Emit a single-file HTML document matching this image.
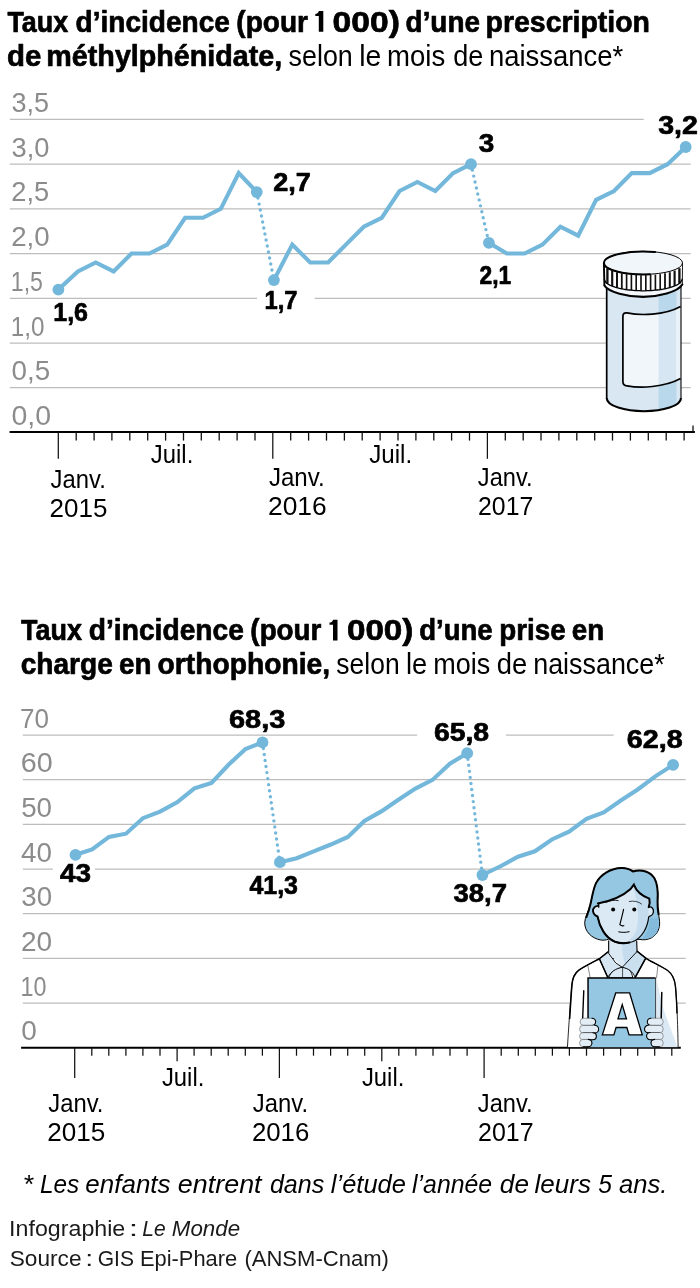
<!DOCTYPE html>
<html lang="fr"><head><meta charset="utf-8"><title>Taux d’incidence</title>
<style>
html,body{margin:0;padding:0;background:#fff;}
body{width:700px;height:1288px;overflow:hidden;font-family:"Liberation Sans",sans-serif;}
svg{display:block;font-family:"Liberation Sans",sans-serif;will-change:transform;}
</style></head><body>
<svg width="700" height="1288" viewBox="0 0 700 1288">
<rect width="700" height="1288" fill="#fff"/>
<text x="7.45" y="31.7" font-size="30" font-weight="bold" font-style="normal" fill="#000" text-anchor="start" stroke="#000" stroke-width="0.7" stroke-linejoin="round" textLength="60.69" lengthAdjust="spacingAndGlyphs">Taux</text>
<text x="75.6" y="31.7" font-size="30" font-weight="bold" font-style="normal" fill="#000" text-anchor="start" stroke="#000" stroke-width="0.7" stroke-linejoin="round" textLength="154.3" lengthAdjust="spacingAndGlyphs">d’incidence</text>
<text x="236.36" y="31.7" font-size="30" font-weight="bold" font-style="normal" fill="#000" text-anchor="start" stroke="#000" stroke-width="0.7" stroke-linejoin="round" textLength="71.6" lengthAdjust="spacingAndGlyphs">(pour</text>
<text x="332.62" y="31.7" font-size="30" font-weight="bold" font-style="normal" fill="#000" text-anchor="start" stroke="#000" stroke-width="0.7" stroke-linejoin="round" textLength="67.29" lengthAdjust="spacingAndGlyphs">000)</text>
<text x="405.61" y="31.7" font-size="30" font-weight="bold" font-style="normal" fill="#000" text-anchor="start" stroke="#000" stroke-width="0.7" stroke-linejoin="round" textLength="74.29" lengthAdjust="spacingAndGlyphs">d’une</text>
<text x="485.59" y="31.7" font-size="30" font-weight="bold" font-style="normal" fill="#000" text-anchor="start" stroke="#000" stroke-width="0.7" stroke-linejoin="round" textLength="164.42" lengthAdjust="spacingAndGlyphs">prescription</text>
<text x="7.04" y="65.5" font-size="30" font-weight="bold" font-style="normal" fill="#000" text-anchor="start" stroke="#000" stroke-width="0.7" stroke-linejoin="round" textLength="34.3" lengthAdjust="spacingAndGlyphs">de</text>
<text x="46.37" y="65.5" font-size="30" font-weight="bold" font-style="normal" fill="#000" text-anchor="start" stroke="#000" stroke-width="0.7" stroke-linejoin="round" textLength="235.89" lengthAdjust="spacingAndGlyphs">méthylphénidate,</text>
<text x="288.56" y="65.5" font-size="29" font-weight="normal" font-style="normal" fill="#000" text-anchor="start" textLength="64.28" lengthAdjust="spacingAndGlyphs">selon</text>
<text x="359.2" y="65.5" font-size="29" font-weight="normal" font-style="normal" fill="#000" text-anchor="start" textLength="22.05" lengthAdjust="spacingAndGlyphs">le</text>
<text x="387.08" y="65.5" font-size="29" font-weight="normal" font-style="normal" fill="#000" text-anchor="start" textLength="58.21" lengthAdjust="spacingAndGlyphs">mois</text>
<text x="453.18" y="65.5" font-size="29" font-weight="normal" font-style="normal" fill="#000" text-anchor="start" textLength="30.12" lengthAdjust="spacingAndGlyphs">de</text>
<text x="488.89" y="65.5" font-size="29" font-weight="normal" font-style="normal" fill="#000" text-anchor="start" textLength="134.43" lengthAdjust="spacingAndGlyphs">naissance*</text>
<text x="21.05" y="640.4" font-size="30" font-weight="bold" font-style="normal" fill="#000" text-anchor="start" stroke="#000" stroke-width="0.7" stroke-linejoin="round" textLength="60.89" lengthAdjust="spacingAndGlyphs">Taux</text>
<text x="88.79" y="640.4" font-size="30" font-weight="bold" font-style="normal" fill="#000" text-anchor="start" stroke="#000" stroke-width="0.7" stroke-linejoin="round" textLength="155.11" lengthAdjust="spacingAndGlyphs">d’incidence</text>
<text x="250.37" y="640.4" font-size="30" font-weight="bold" font-style="normal" fill="#000" text-anchor="start" stroke="#000" stroke-width="0.7" stroke-linejoin="round" textLength="71.09" lengthAdjust="spacingAndGlyphs">(pour</text>
<text x="346.94" y="640.4" font-size="30" font-weight="bold" font-style="normal" fill="#000" text-anchor="start" stroke="#000" stroke-width="0.7" stroke-linejoin="round" textLength="66.45" lengthAdjust="spacingAndGlyphs">000)</text>
<text x="419.22" y="640.4" font-size="30" font-weight="bold" font-style="normal" fill="#000" text-anchor="start" stroke="#000" stroke-width="0.7" stroke-linejoin="round" textLength="73.47" lengthAdjust="spacingAndGlyphs">d’une</text>
<text x="499.23" y="640.4" font-size="30" font-weight="bold" font-style="normal" fill="#000" text-anchor="start" stroke="#000" stroke-width="0.7" stroke-linejoin="round" textLength="66.37" lengthAdjust="spacingAndGlyphs">prise</text>
<text x="571.87" y="640.4" font-size="30" font-weight="bold" font-style="normal" fill="#000" text-anchor="start" stroke="#000" stroke-width="0.7" stroke-linejoin="round" textLength="32.4" lengthAdjust="spacingAndGlyphs">en</text>
<text x="20.65" y="673.5" font-size="30" font-weight="bold" font-style="normal" fill="#000" text-anchor="start" stroke="#000" stroke-width="0.7" stroke-linejoin="round" textLength="92.16" lengthAdjust="spacingAndGlyphs">charge</text>
<text x="118.97" y="673.5" font-size="30" font-weight="bold" font-style="normal" fill="#000" text-anchor="start" stroke="#000" stroke-width="0.7" stroke-linejoin="round" textLength="32.4" lengthAdjust="spacingAndGlyphs">en</text>
<text x="157.55" y="673.5" font-size="30" font-weight="bold" font-style="normal" fill="#000" text-anchor="start" stroke="#000" stroke-width="0.7" stroke-linejoin="round" textLength="172.49" lengthAdjust="spacingAndGlyphs">orthophonie,</text>
<text x="336.37" y="673.5" font-size="29" font-weight="normal" font-style="normal" fill="#000" text-anchor="start" textLength="63.24" lengthAdjust="spacingAndGlyphs">selon</text>
<text x="406.07" y="673.5" font-size="29" font-weight="normal" font-style="normal" fill="#000" text-anchor="start" textLength="21.24" lengthAdjust="spacingAndGlyphs">le</text>
<text x="433.22" y="673.5" font-size="29" font-weight="normal" font-style="normal" fill="#000" text-anchor="start" textLength="57.05" lengthAdjust="spacingAndGlyphs">mois</text>
<text x="496.76" y="673.5" font-size="29" font-weight="normal" font-style="normal" fill="#000" text-anchor="start" textLength="30.45" lengthAdjust="spacingAndGlyphs">de</text>
<text x="533.23" y="673.5" font-size="29" font-weight="normal" font-style="normal" fill="#000" text-anchor="start" textLength="131.48" lengthAdjust="spacingAndGlyphs">naissance*</text>
<path d="M318.8 11.10H323.3V31.7H318.8V16.00H315.30V13.90C317.20 13.90 318.50 13.00 318.8 11.10Z" fill="#000"/>
<path d="M333.0 619.80H337.5V640.4H333.0V624.70H329.50V622.60C331.40 622.60 332.70 621.70 333.0 619.80Z" fill="#000"/>
<path d="M9.8 119.4H643.8" stroke="#bfbdbb" stroke-width="1.25"/>
<path d="M9.8 164.12H690.6" stroke="#bfbdbb" stroke-width="1.25"/>
<path d="M9.8 208.84H690.6" stroke="#bfbdbb" stroke-width="1.25"/>
<path d="M9.8 253.56H690.6" stroke="#bfbdbb" stroke-width="1.25"/>
<path d="M9.8 298.28H257M314.6 298.28H690.6" stroke="#bfbdbb" stroke-width="1.25"/>
<path d="M9.8 343.0H690.6" stroke="#bfbdbb" stroke-width="1.25"/>
<path d="M9.8 387.72H690.6" stroke="#bfbdbb" stroke-width="1.25"/>
<text x="11.57" y="111.9" font-size="27" font-weight="normal" font-style="normal" fill="#8c8c8c" text-anchor="start" textLength="37.55" lengthAdjust="spacingAndGlyphs">3,5</text>
<text x="11.56" y="156.6" font-size="27" font-weight="normal" font-style="normal" fill="#8c8c8c" text-anchor="start" textLength="37.89" lengthAdjust="spacingAndGlyphs">3,0</text>
<text x="11.24" y="201.3" font-size="27" font-weight="normal" font-style="normal" fill="#8c8c8c" text-anchor="start" textLength="37.9" lengthAdjust="spacingAndGlyphs">2,5</text>
<text x="11.22" y="246.1" font-size="27" font-weight="normal" font-style="normal" fill="#8c8c8c" text-anchor="start" textLength="38.45" lengthAdjust="spacingAndGlyphs">2,0</text>
<text x="10.84" y="290.8" font-size="27" font-weight="normal" font-style="normal" fill="#8c8c8c" text-anchor="start" textLength="32.12" lengthAdjust="spacingAndGlyphs">1,5</text>
<text x="10.76" y="335.5" font-size="27" font-weight="normal" font-style="normal" fill="#8c8c8c" text-anchor="start" textLength="33.68" lengthAdjust="spacingAndGlyphs">1,0</text>
<text x="11.52" y="380.2" font-size="27" font-weight="normal" font-style="normal" fill="#8c8c8c" text-anchor="start" textLength="38.64" lengthAdjust="spacingAndGlyphs">0,5</text>
<text x="11.49" y="424.5" font-size="27" font-weight="normal" font-style="normal" fill="#8c8c8c" text-anchor="start" textLength="39.61" lengthAdjust="spacingAndGlyphs">0,0</text>
<path d="M9.6 432H694.9" stroke="#000" stroke-width="2"/>
<path d="M693.0 425.6V432" stroke="#111" stroke-width="1.3"/>
<path d="M58.3 432V458.8" stroke="#111" stroke-width="1.25"/>
<path d="M76.2 432V440.6" stroke="#111" stroke-width="1.3"/>
<path d="M94.1 432V440.6" stroke="#111" stroke-width="1.3"/>
<path d="M111.9 432V440.6" stroke="#111" stroke-width="1.3"/>
<path d="M129.8 432V440.6" stroke="#111" stroke-width="1.3"/>
<path d="M147.7 432V440.6" stroke="#111" stroke-width="1.3"/>
<path d="M165.6 432V440.6" stroke="#111" stroke-width="1.3"/>
<path d="M183.5 432V440.6" stroke="#111" stroke-width="1.3"/>
<path d="M201.3 432V440.6" stroke="#111" stroke-width="1.3"/>
<path d="M219.2 432V440.6" stroke="#111" stroke-width="1.3"/>
<path d="M237.1 432V440.6" stroke="#111" stroke-width="1.3"/>
<path d="M255.0 432V440.6" stroke="#111" stroke-width="1.3"/>
<path d="M272.8 432V458.8" stroke="#111" stroke-width="1.25"/>
<path d="M290.7 432V440.6" stroke="#111" stroke-width="1.3"/>
<path d="M308.6 432V440.6" stroke="#111" stroke-width="1.3"/>
<path d="M326.5 432V440.6" stroke="#111" stroke-width="1.3"/>
<path d="M344.4 432V440.6" stroke="#111" stroke-width="1.3"/>
<path d="M362.2 432V440.6" stroke="#111" stroke-width="1.3"/>
<path d="M380.1 432V440.6" stroke="#111" stroke-width="1.3"/>
<path d="M398.0 432V440.6" stroke="#111" stroke-width="1.3"/>
<path d="M415.9 432V440.6" stroke="#111" stroke-width="1.3"/>
<path d="M433.8 432V440.6" stroke="#111" stroke-width="1.3"/>
<path d="M451.6 432V440.6" stroke="#111" stroke-width="1.3"/>
<path d="M469.5 432V440.6" stroke="#111" stroke-width="1.3"/>
<path d="M487.4 432V458.8" stroke="#111" stroke-width="1.25"/>
<path d="M505.3 432V440.6" stroke="#111" stroke-width="1.3"/>
<path d="M523.2 432V440.6" stroke="#111" stroke-width="1.3"/>
<path d="M541.0 432V440.6" stroke="#111" stroke-width="1.3"/>
<path d="M558.9 432V440.6" stroke="#111" stroke-width="1.3"/>
<path d="M576.8 432V440.6" stroke="#111" stroke-width="1.3"/>
<path d="M594.7 432V440.6" stroke="#111" stroke-width="1.3"/>
<path d="M612.5 432V440.6" stroke="#111" stroke-width="1.3"/>
<path d="M630.4 432V440.6" stroke="#111" stroke-width="1.3"/>
<path d="M648.3 432V440.6" stroke="#111" stroke-width="1.3"/>
<path d="M666.2 432V440.6" stroke="#111" stroke-width="1.3"/>
<path d="M684.1 432V440.6" stroke="#111" stroke-width="1.3"/>
<text x="150.83" y="463.4" font-size="26" font-weight="normal" font-style="normal" fill="#000" text-anchor="start" textLength="42.44" lengthAdjust="spacingAndGlyphs">Juil.</text>
<text x="369.23" y="463.4" font-size="26" font-weight="normal" font-style="normal" fill="#000" text-anchor="start" textLength="42.97" lengthAdjust="spacingAndGlyphs">Juil.</text>
<text x="50.53" y="487.9" font-size="26" font-weight="normal" font-style="normal" fill="#000" text-anchor="start" textLength="55.24" lengthAdjust="spacingAndGlyphs">Janv.</text>
<text x="49.6" y="517.1" font-size="26" font-weight="normal" font-style="normal" fill="#000" text-anchor="start" textLength="57.78" lengthAdjust="spacingAndGlyphs">2015</text>
<text x="268.93" y="486.3" font-size="26" font-weight="normal" font-style="normal" fill="#000" text-anchor="start" textLength="55.76" lengthAdjust="spacingAndGlyphs">Janv.</text>
<text x="267.98" y="515.3" font-size="26" font-weight="normal" font-style="normal" fill="#000" text-anchor="start" textLength="58.67" lengthAdjust="spacingAndGlyphs">2016</text>
<text x="477.83" y="486.3" font-size="26" font-weight="normal" font-style="normal" fill="#000" text-anchor="start" textLength="54.71" lengthAdjust="spacingAndGlyphs">Janv.</text>
<text x="478.06" y="515.3" font-size="26" font-weight="normal" font-style="normal" fill="#000" text-anchor="start" textLength="55.18" lengthAdjust="spacingAndGlyphs">2017</text>
<path d="M58.4 289.6L77.9 271.4L95.7 262.5L113.6 271.4L131.5 253.5L149.4 253.5L167.2 244.6L185.1 217.8L203.0 217.8L220.8 208.8L238.7 173.1L256.8 192.1" fill="none" stroke="#73b7db" stroke-width="4.1" stroke-linejoin="miter" stroke-linecap="butt"/>
<path d="M273.9 280.1L292.3 244.6L310.2 262.5L328.1 262.5L345.9 244.6L363.8 226.7L381.7 217.8L399.5 191.0L417.4 182.0L435.3 191.0L453.1 173.1L471.0 164.2" fill="none" stroke="#73b7db" stroke-width="4.1" stroke-linejoin="miter" stroke-linecap="butt"/>
<path d="M488.9 242.8L506.8 253.5L524.6 253.5L542.5 244.6L560.4 226.7L578.2 235.7L596.1 199.9L614.0 191.0L631.8 173.1L649.7 173.1L667.6 164.2L685.7 147.0" fill="none" stroke="#73b7db" stroke-width="4.1" stroke-linejoin="miter" stroke-linecap="butt"/>
<path d="M256.8 192.1L273.9 280.1" fill="none" stroke="#73b7db" stroke-width="3.4" stroke-linecap="round" stroke-dasharray="0 6.1"/>
<path d="M471.0 164.2L488.9 242.8" fill="none" stroke="#73b7db" stroke-width="3.4" stroke-linecap="round" stroke-dasharray="0 6.1"/>
<circle cx="58.4" cy="289.6" r="5.9" fill="#73b7db"/>
<circle cx="256.8" cy="192.1" r="5.9" fill="#73b7db"/>
<circle cx="273.9" cy="280.1" r="5.9" fill="#73b7db"/>
<circle cx="471.0" cy="164.2" r="5.9" fill="#73b7db"/>
<circle cx="488.9" cy="242.8" r="5.9" fill="#73b7db"/>
<circle cx="685.7" cy="147.0" r="5.9" fill="#73b7db"/>
<text x="53.29" y="321.1" font-size="26" font-weight="bold" font-style="normal" fill="#000" text-anchor="start" stroke="#000" stroke-width="0.7" stroke-linejoin="round" textLength="34.75" lengthAdjust="spacingAndGlyphs">1,6</text>
<text x="273.22" y="190.9" font-size="26" font-weight="bold" font-style="normal" fill="#000" text-anchor="start" stroke="#000" stroke-width="0.7" stroke-linejoin="round" textLength="37.61" lengthAdjust="spacingAndGlyphs">2,7</text>
<text x="264.57" y="308.8" font-size="26" font-weight="bold" font-style="normal" fill="#000" text-anchor="start" stroke="#000" stroke-width="0.7" stroke-linejoin="round" textLength="33.02" lengthAdjust="spacingAndGlyphs">1,7</text>
<text x="478.82" y="152.3" font-size="26" font-weight="bold" font-style="normal" fill="#000" text-anchor="start" stroke="#000" stroke-width="0.7" stroke-linejoin="round" textLength="15.52" lengthAdjust="spacingAndGlyphs">3</text>
<text x="479.56" y="283.5" font-size="26" font-weight="bold" font-style="normal" fill="#000" text-anchor="start" stroke="#000" stroke-width="0.7" stroke-linejoin="round" textLength="31.72" lengthAdjust="spacingAndGlyphs">2,1</text>
<text x="658.21" y="134.2" font-size="26" font-weight="bold" font-style="normal" fill="#000" text-anchor="start" stroke="#000" stroke-width="0.7" stroke-linejoin="round" textLength="39.67" lengthAdjust="spacingAndGlyphs">3,2</text>
<path d="M22.8 735.0H417.1M506 735.0H613.6" stroke="#bfbdbb" stroke-width="1.25"/>
<path d="M22.8 779.67H685.7" stroke="#bfbdbb" stroke-width="1.25"/>
<path d="M22.8 824.33H685.7" stroke="#bfbdbb" stroke-width="1.25"/>
<path d="M22.8 869.0H52.8M95.1 869.0H685.7" stroke="#bfbdbb" stroke-width="1.25"/>
<path d="M22.8 913.67H685.7" stroke="#bfbdbb" stroke-width="1.25"/>
<path d="M22.8 958.33H685.7" stroke="#bfbdbb" stroke-width="1.25"/>
<path d="M22.8 1003.0H685.7" stroke="#bfbdbb" stroke-width="1.25"/>
<text x="19.97" y="727.6" font-size="27" font-weight="normal" font-style="normal" fill="#8c8c8c" text-anchor="start" textLength="28.94" lengthAdjust="spacingAndGlyphs">70</text>
<text x="20.85" y="772.3" font-size="27" font-weight="normal" font-style="normal" fill="#8c8c8c" text-anchor="start" textLength="31.97" lengthAdjust="spacingAndGlyphs">60</text>
<text x="21.19" y="816.9" font-size="27" font-weight="normal" font-style="normal" fill="#8c8c8c" text-anchor="start" textLength="30.89" lengthAdjust="spacingAndGlyphs">50</text>
<text x="20.97" y="861.6" font-size="27" font-weight="normal" font-style="normal" fill="#8c8c8c" text-anchor="start" textLength="30.9" lengthAdjust="spacingAndGlyphs">40</text>
<text x="21.25" y="906.3" font-size="27" font-weight="normal" font-style="normal" fill="#8c8c8c" text-anchor="start" textLength="30.83" lengthAdjust="spacingAndGlyphs">30</text>
<text x="20.9" y="950.9" font-size="27" font-weight="normal" font-style="normal" fill="#8c8c8c" text-anchor="start" textLength="31.19" lengthAdjust="spacingAndGlyphs">20</text>
<text x="20.52" y="995.6" font-size="27" font-weight="normal" font-style="normal" fill="#8c8c8c" text-anchor="start" textLength="25.98" lengthAdjust="spacingAndGlyphs">10</text>
<text x="21.21" y="1040.4" font-size="27" font-weight="normal" font-style="normal" fill="#8c8c8c" text-anchor="start" textLength="15.57" lengthAdjust="spacingAndGlyphs">0</text>
<path d="M21.1 1047.8H680.8" stroke="#000" stroke-width="2"/>
<path d="M74.7 1047.8V1078" stroke="#111" stroke-width="1.25"/>
<path d="M91.8 1047.8V1055.7" stroke="#111" stroke-width="1.25"/>
<path d="M108.8 1047.8V1055.7" stroke="#111" stroke-width="1.25"/>
<path d="M125.9 1047.8V1055.7" stroke="#111" stroke-width="1.25"/>
<path d="M142.9 1047.8V1055.7" stroke="#111" stroke-width="1.25"/>
<path d="M160.0 1047.8V1055.7" stroke="#111" stroke-width="1.25"/>
<path d="M177.1 1047.8V1061.3" stroke="#111" stroke-width="1.25"/>
<path d="M194.1 1047.8V1055.7" stroke="#111" stroke-width="1.25"/>
<path d="M211.2 1047.8V1055.7" stroke="#111" stroke-width="1.25"/>
<path d="M228.2 1047.8V1055.7" stroke="#111" stroke-width="1.25"/>
<path d="M245.3 1047.8V1055.7" stroke="#111" stroke-width="1.25"/>
<path d="M262.4 1047.8V1055.7" stroke="#111" stroke-width="1.25"/>
<path d="M279.4 1047.8V1078" stroke="#111" stroke-width="1.25"/>
<path d="M296.5 1047.8V1055.7" stroke="#111" stroke-width="1.25"/>
<path d="M313.5 1047.8V1055.7" stroke="#111" stroke-width="1.25"/>
<path d="M330.6 1047.8V1055.7" stroke="#111" stroke-width="1.25"/>
<path d="M347.7 1047.8V1055.7" stroke="#111" stroke-width="1.25"/>
<path d="M364.7 1047.8V1055.7" stroke="#111" stroke-width="1.25"/>
<path d="M381.8 1047.8V1061.3" stroke="#111" stroke-width="1.25"/>
<path d="M398.8 1047.8V1055.7" stroke="#111" stroke-width="1.25"/>
<path d="M415.9 1047.8V1055.7" stroke="#111" stroke-width="1.25"/>
<path d="M433.0 1047.8V1055.7" stroke="#111" stroke-width="1.25"/>
<path d="M450.0 1047.8V1055.7" stroke="#111" stroke-width="1.25"/>
<path d="M467.1 1047.8V1055.7" stroke="#111" stroke-width="1.25"/>
<path d="M484.1 1047.8V1078" stroke="#111" stroke-width="1.25"/>
<path d="M501.2 1047.8V1055.7" stroke="#111" stroke-width="1.25"/>
<path d="M518.3 1047.8V1055.7" stroke="#111" stroke-width="1.25"/>
<path d="M535.3 1047.8V1055.7" stroke="#111" stroke-width="1.25"/>
<path d="M552.4 1047.8V1055.7" stroke="#111" stroke-width="1.25"/>
<path d="M569.4 1047.8V1055.7" stroke="#111" stroke-width="1.25"/>
<path d="M586.5 1047.8V1055.7" stroke="#111" stroke-width="1.25"/>
<path d="M603.6 1047.8V1055.7" stroke="#111" stroke-width="1.25"/>
<path d="M620.6 1047.8V1055.7" stroke="#111" stroke-width="1.25"/>
<path d="M637.7 1047.8V1055.7" stroke="#111" stroke-width="1.25"/>
<path d="M654.7 1047.8V1055.7" stroke="#111" stroke-width="1.25"/>
<path d="M671.8 1047.8V1055.7" stroke="#111" stroke-width="1.25"/>
<text x="161.93" y="1086.4" font-size="26" font-weight="normal" font-style="normal" fill="#000" text-anchor="start" textLength="42.44" lengthAdjust="spacingAndGlyphs">Juil.</text>
<text x="361.93" y="1086.4" font-size="26" font-weight="normal" font-style="normal" fill="#000" text-anchor="start" textLength="42.44" lengthAdjust="spacingAndGlyphs">Juil.</text>
<text x="48.23" y="1112.3" font-size="26" font-weight="normal" font-style="normal" fill="#000" text-anchor="start" textLength="55.24" lengthAdjust="spacingAndGlyphs">Janv.</text>
<text x="47.29" y="1141.3" font-size="26" font-weight="normal" font-style="normal" fill="#000" text-anchor="start" textLength="58.09" lengthAdjust="spacingAndGlyphs">2015</text>
<text x="252.83" y="1112.3" font-size="26" font-weight="normal" font-style="normal" fill="#000" text-anchor="start" textLength="55.24" lengthAdjust="spacingAndGlyphs">Janv.</text>
<text x="251.91" y="1141.3" font-size="26" font-weight="normal" font-style="normal" fill="#000" text-anchor="start" textLength="57.42" lengthAdjust="spacingAndGlyphs">2016</text>
<text x="477.83" y="1112.3" font-size="26" font-weight="normal" font-style="normal" fill="#000" text-anchor="start" textLength="54.82" lengthAdjust="spacingAndGlyphs">Janv.</text>
<text x="478.05" y="1141.3" font-size="26" font-weight="normal" font-style="normal" fill="#000" text-anchor="start" textLength="55.5" lengthAdjust="spacingAndGlyphs">2017</text>
<path d="M75.5 854.8L92.1 849.5L109.0 836.9L126.0 833.7L142.9 818.2L160.0 811.6L177.1 802.3L194.4 788.4L211.5 783.0L228.5 764.8L245.5 749.0L262.5 742.4" fill="none" stroke="#73b7db" stroke-width="4.1" stroke-linejoin="miter" stroke-linecap="butt"/>
<path d="M279.9 862.2L296.7 858.2L313.7 851.3L330.8 844.5L347.9 836.9L364.4 821.0L381.3 811.4L398.4 799.7L415.4 788.6L432.5 779.9L449.9 763.7L467.2 753.2" fill="none" stroke="#73b7db" stroke-width="4.1" stroke-linejoin="miter" stroke-linecap="butt"/>
<path d="M482.4 875.0L500.5 866.3L518.0 856.7L534.9 851.3L551.9 839.5L569.0 831.6L586.5 818.8L603.7 812.4L620.8 800.5L638.1 789.2L655.3 776.4L673.1 764.9" fill="none" stroke="#73b7db" stroke-width="4.1" stroke-linejoin="miter" stroke-linecap="butt"/>
<path d="M262.5 742.4L279.9 862.2" fill="none" stroke="#73b7db" stroke-width="3.4" stroke-linecap="round" stroke-dasharray="0 6.1"/>
<path d="M467.2 753.2L482.4 875.0" fill="none" stroke="#73b7db" stroke-width="3.4" stroke-linecap="round" stroke-dasharray="0 6.1"/>
<circle cx="75.5" cy="854.8" r="5.9" fill="#73b7db"/>
<circle cx="262.5" cy="742.4" r="5.9" fill="#73b7db"/>
<circle cx="279.9" cy="862.2" r="5.9" fill="#73b7db"/>
<circle cx="467.2" cy="753.2" r="5.9" fill="#73b7db"/>
<circle cx="482.4" cy="875.0" r="5.9" fill="#73b7db"/>
<circle cx="673.1" cy="764.9" r="5.9" fill="#73b7db"/>
<text x="59.93" y="882" font-size="26" font-weight="bold" font-style="normal" fill="#000" text-anchor="start" stroke="#000" stroke-width="0.7" stroke-linejoin="round" textLength="31.02" lengthAdjust="spacingAndGlyphs">43</text>
<text x="228.99" y="727.9" font-size="26" font-weight="bold" font-style="normal" fill="#000" text-anchor="start" stroke="#000" stroke-width="0.7" stroke-linejoin="round" textLength="56.29" lengthAdjust="spacingAndGlyphs">68,3</text>
<text x="249.38" y="893.7" font-size="26" font-weight="bold" font-style="normal" fill="#000" text-anchor="start" stroke="#000" stroke-width="0.7" stroke-linejoin="round" textLength="48.57" lengthAdjust="spacingAndGlyphs">41,3</text>
<text x="433.91" y="741.4" font-size="26" font-weight="bold" font-style="normal" fill="#000" text-anchor="start" stroke="#000" stroke-width="0.7" stroke-linejoin="round" textLength="55.21" lengthAdjust="spacingAndGlyphs">65,8</text>
<text x="453.53" y="901.8" font-size="26" font-weight="bold" font-style="normal" fill="#000" text-anchor="start" stroke="#000" stroke-width="0.7" stroke-linejoin="round" textLength="53.52" lengthAdjust="spacingAndGlyphs">38,7</text>
<text x="626.8" y="747.9" font-size="26" font-weight="bold" font-style="normal" fill="#000" text-anchor="start" stroke="#000" stroke-width="0.7" stroke-linejoin="round" textLength="55.83" lengthAdjust="spacingAndGlyphs">62,8</text>
<text x="22.7" y="1193" font-size="25" font-weight="normal" font-style="italic" fill="#000" text-anchor="start" textLength="10.34" lengthAdjust="spacingAndGlyphs">*</text>
<text x="40.01" y="1193" font-size="25" font-weight="normal" font-style="italic" fill="#000" text-anchor="start" textLength="39.24" lengthAdjust="spacingAndGlyphs">Les</text>
<text x="85.38" y="1193" font-size="25" font-weight="normal" font-style="italic" fill="#000" text-anchor="start" textLength="85.15" lengthAdjust="spacingAndGlyphs">enfants</text>
<text x="177.85" y="1193" font-size="25" font-weight="normal" font-style="italic" fill="#000" text-anchor="start" textLength="83.72" lengthAdjust="spacingAndGlyphs">entrent</text>
<text x="269.91" y="1193" font-size="25" font-weight="normal" font-style="italic" fill="#000" text-anchor="start" textLength="54.35" lengthAdjust="spacingAndGlyphs">dans</text>
<text x="330.84" y="1193" font-size="25" font-weight="normal" font-style="italic" fill="#000" text-anchor="start" textLength="75.1" lengthAdjust="spacingAndGlyphs">l’étude</text>
<text x="412.1" y="1193" font-size="25" font-weight="normal" font-style="italic" fill="#000" text-anchor="start" textLength="80.06" lengthAdjust="spacingAndGlyphs">l’année</text>
<text x="499.87" y="1193" font-size="25" font-weight="normal" font-style="italic" fill="#000" text-anchor="start" textLength="29.09" lengthAdjust="spacingAndGlyphs">de</text>
<text x="534.58" y="1193" font-size="25" font-weight="normal" font-style="italic" fill="#000" text-anchor="start" textLength="56.45" lengthAdjust="spacingAndGlyphs">leurs</text>
<text x="598.21" y="1193" font-size="25" font-weight="normal" font-style="italic" fill="#000" text-anchor="start" textLength="13.72" lengthAdjust="spacingAndGlyphs">5</text>
<text x="618.94" y="1193" font-size="25" font-weight="normal" font-style="italic" fill="#000" text-anchor="start" textLength="48.44" lengthAdjust="spacingAndGlyphs">ans.</text>
<text x="9.11" y="1235.5" font-size="22" font-weight="normal" font-style="normal" fill="#1a1a1a" text-anchor="start" textLength="116.16" lengthAdjust="spacingAndGlyphs">Infographie</text>
<text x="128.67" y="1235.5" font-size="22" font-weight="normal" font-style="normal" fill="#1a1a1a" text-anchor="start" textLength="9.41" lengthAdjust="spacingAndGlyphs">:</text>
<text x="142.36" y="1235.5" font-size="22" font-weight="normal" font-style="italic" fill="#1a1a1a" text-anchor="start" textLength="23.42" lengthAdjust="spacingAndGlyphs">Le</text>
<text x="171.82" y="1235.5" font-size="22" font-weight="normal" font-style="italic" fill="#1a1a1a" text-anchor="start" textLength="68.25" lengthAdjust="spacingAndGlyphs">Monde</text>
<text x="9.73" y="1266.25" font-size="22" font-weight="normal" font-style="normal" fill="#1a1a1a" text-anchor="start" textLength="71.77" lengthAdjust="spacingAndGlyphs">Source</text>
<text x="85.39" y="1266.25" font-size="22" font-weight="normal" font-style="normal" fill="#1a1a1a" text-anchor="start" textLength="7.96" lengthAdjust="spacingAndGlyphs">:</text>
<text x="97.7" y="1266.25" font-size="22" font-weight="normal" font-style="normal" fill="#1a1a1a" text-anchor="start" textLength="36.26" lengthAdjust="spacingAndGlyphs">GIS</text>
<text x="139.96" y="1266.25" font-size="22" font-weight="normal" font-style="normal" fill="#1a1a1a" text-anchor="start" textLength="97.26" lengthAdjust="spacingAndGlyphs">Epi-Phare</text>
<text x="244.38" y="1266.25" font-size="22" font-weight="normal" font-style="normal" fill="#1a1a1a" text-anchor="start" textLength="144.49" lengthAdjust="spacingAndGlyphs">(ANSM-Cnam)</text>
<g id="bottle">
<clipPath id="bclip"><path d="M606.7 286 L606.7 398 C606.7 406 625 411.2 644 411.2 C663 411.2 681 406 681 398 L681 284 Z"/></clipPath>
<path d="M606.7 286 L606.7 398 C606.7 406 625 411.2 644 411.2 C663 411.2 681 406 681 398 L681 284 Z" fill="#d9e7f3"/>
<g clip-path="url(#bclip)"><rect x="658.6" y="280" width="17.8" height="140" fill="#b9d8eb"/></g>
<clipPath id="lclip"><path d="M622.9 316.5 Q622.9 312.3 627 312.9 C640 315.6 664 315.5 680.6 306.4 L680.6 378.6 C664 387.6 640 388.2 627 385.9 Q622.9 385.5 622.9 381.5 Z"/></clipPath>
<path d="M622.9 316.5 Q622.9 312.3 627 312.9 C640 315.6 664 315.5 680.6 306.4 L680.6 378.6 C664 387.6 640 388.2 627 385.9 Q622.9 385.5 622.9 381.5 Z" fill="#f1f6fb"/>
<g clip-path="url(#lclip)"><rect x="658.6" y="300" width="17.8" height="95" fill="#d6e6f2"/><rect x="676.4" y="300" width="6" height="95" fill="#e9f2f9"/></g>
<path d="M680.6 306.4 C664 315.5 640 315.6 627 312.9 Q622.9 312.3 622.9 316.5 L622.9 381.5 Q622.9 385.5 627 385.9 C640 388.2 664 387.6 680.6 378.6" fill="none" stroke="#000" stroke-width="1.7" stroke-linejoin="round"/>
<path d="M606.7 287 L606.7 398.5" fill="none" stroke="#000" stroke-width="1.7"/>
<path d="M606.7 398 C606.7 406 625 411.2 644 411.2 C663 411.2 681 406 681 398" fill="none" stroke="#000" stroke-width="2.1"/>
<path d="M681 398.5 L681 286" fill="none" stroke="#000" stroke-width="1.1"/>
<path d="M604.3 270 L604.4 285.5 C608 292 628 296.9 643.2 296.9 C658 296.9 678 292 682.3 284.5 L682.4 270 Z" fill="#f4f8fc"/>
<path d="M604.4 285.5 C608 292 628 296.9 643.2 296.9 C658 296.9 678 292 682.3 284.5" fill="none" stroke="#000" stroke-width="2.1" stroke-linecap="round"/>
<path d="M603.9 262.9 L603.9 278.8 L605.9 282.5 L607.8 284.0 L609.8 285.1 L611.8 286.0 L613.7 286.7 L615.7 287.4 L617.7 287.9 L619.6 288.4 L621.6 288.8 L623.6 289.2 L625.5 289.5 L627.5 289.8 L629.4 290.0 L631.4 290.2 L633.4 290.4 L635.3 290.6 L637.3 290.7 L639.3 290.7 L641.2 290.8 L643.2 290.8 L645.2 290.8 L647.1 290.7 L649.1 290.7 L651.1 290.6 L653.0 290.4 L655.0 290.2 L657.0 290.0 L658.9 289.8 L660.9 289.5 L662.9 289.2 L664.8 288.8 L666.8 288.4 L668.7 287.9 L670.7 287.4 L672.7 286.7 L674.6 286.0 L676.6 285.1 L678.6 284.0 L680.5 282.5 L682.5 278.8 L682.5 262.9 Z" fill="#fff"/>
<path d="M607.4 268.4 L607.4 283.8" stroke="#111" stroke-width="2.34"/>
<path d="M612.2 270.8 L612.2 286.2" stroke="#111" stroke-width="2.16"/>
<path d="M617.0 272.3 L617.0 287.7" stroke="#111" stroke-width="1.98"/>
<path d="M621.8 273.3 L621.8 288.9" stroke="#111" stroke-width="1.79"/>
<path d="M626.6 274.1 L626.6 289.7" stroke="#111" stroke-width="1.65"/>
<path d="M631.4 274.7 L631.4 290.2" stroke="#111" stroke-width="1.65"/>
<path d="M636.2 275.0 L636.2 290.6" stroke="#111" stroke-width="1.65"/>
<path d="M641.0 275.2 L641.0 290.8" stroke="#111" stroke-width="1.65"/>
<path d="M645.8 275.2 L645.8 290.8" stroke="#111" stroke-width="1.65"/>
<path d="M650.6 275.0 L650.6 290.6" stroke="#111" stroke-width="1.65"/>
<path d="M655.4 274.6 L655.4 290.2" stroke="#111" stroke-width="1.65"/>
<path d="M660.2 274.1 L660.2 289.6" stroke="#111" stroke-width="1.65"/>
<path d="M665.0 273.3 L665.0 288.8" stroke="#111" stroke-width="1.81"/>
<path d="M669.8 272.2 L669.8 287.6" stroke="#111" stroke-width="1.99"/>
<path d="M674.6 270.6 L674.6 286.0" stroke="#111" stroke-width="2.17"/>
<path d="M679.4 268.2 L679.4 283.5" stroke="#111" stroke-width="2.36"/>
<path d="M603.9 278.8 L605.9 282.5 L607.8 284.0 L609.8 285.1 L611.8 286.0 L613.7 286.7 L615.7 287.4 L617.7 287.9 L619.6 288.4 L621.6 288.8 L623.6 289.2 L625.5 289.5 L627.5 289.8 L629.4 290.0 L631.4 290.2 L633.4 290.4 L635.3 290.6 L637.3 290.7 L639.3 290.7 L641.2 290.8 L643.2 290.8 L645.2 290.8 L647.1 290.7 L649.1 290.7 L651.1 290.6 L653.0 290.4 L655.0 290.2 L657.0 290.0 L658.9 289.8 L660.9 289.5 L662.9 289.2 L664.8 288.8 L666.8 288.4 L668.7 287.9 L670.7 287.4 L672.7 286.7 L674.6 286.0 L676.6 285.1 L678.6 284.0 L680.5 282.5 L682.5 278.8" fill="none" stroke="#000" stroke-width="1.3"/>
<path d="M603.9 262.9 L604.4 285.5" stroke="#000" stroke-width="1.9"/>
<path d="M682.5 262.9 L682.3 284.5" stroke="#000" stroke-width="0.9"/>
<ellipse cx="643.2" cy="262.9" rx="39.3" ry="11.5" fill="#f1f6fb" stroke="#000" stroke-width="1.0"/>
<path d="M655 252 A39.3 11.5 0 0 0 603.9 262.9 A39.3 11.5 0 0 0 650 274.3" fill="none" stroke="#000" stroke-width="2.0" stroke-linecap="round"/>
</g>
<g id="person">
<g transform="translate(575,860) scale(0.142857)">
<path d="M405 80 C380 62 350 55 325 56 C250 58 180 100 148 160 C128 200 122 250 108 310 C95 360 68 400 68 440 C68 500 115 548 180 560 C200 563 220 560 232 555 L455 556 C480 562 510 558 535 545 C575 522 596 480 592 430 C588 385 576 340 578 290 C582 230 580 170 556 128 C528 82 470 62 405 80 Z" fill="#95c6e2" stroke="#000" stroke-width="7" stroke-linejoin="round"/>
<path d="M80 400 C92 370 100 345 108 310 C122 250 128 200 148 160 C180 100 250 58 325 56 C350 55 380 62 405 80 C470 62 528 82 556 128 C580 170 582 230 578 290 C577 320 580 350 585 380" fill="none" stroke="#000" stroke-width="14" stroke-linejoin="round" stroke-linecap="round"/>
<path d="M525 400 C545 400 560 420 575 400 C592 440 590 490 560 525 C530 550 500 555 470 552 C500 520 520 470 525 400 Z" fill="#84bbdc"/>
</g>
<g transform="translate(560,935) scale(0.185714)">
<path d="M212 128 C170 150 130 170 100 190 C80 205 68 225 64 270 C58 340 48 470 40 606 L636 606 C634 470 628 340 622 280 C618 235 605 210 578 190 C545 168 500 148 460 124 Z" fill="#fff"/>
<path d="M522 238 C532 300 548 370 565 420 C585 480 612 540 632 606 L548 606 L548 445 L520 445 Z" fill="#dbe9f4"/>
<path d="M212 128 C170 150 130 170 100 190 C80 205 68 225 64 270 C58 340 48 470 40 606 L636 606 C634 470 628 340 622 280 C618 235 605 210 578 190 C545 168 500 148 460 124 Z" fill="none" stroke="#000" stroke-width="4.5" stroke-linejoin="round"/>
<path d="M212 128 C170 150 130 170 100 190 C80 205 68 225 64 270 C60 320 56 385 52 450" fill="none" stroke="#000" stroke-width="8.5" stroke-linecap="round" stroke-linejoin="round"/>
<path d="M460 124 C500 148 545 168 578 190 C605 210 618 235 622 280 C626 330 629 370 630 420" fill="none" stroke="#000" stroke-width="7.5" stroke-linecap="round" stroke-linejoin="round"/>
<path d="M150 165 L162 228" stroke="#000" stroke-width="2.5" fill="none"/>
<path d="M527 165 L520 232" stroke="#000" stroke-width="2.5" fill="none"/>
<path d="M128 300 C126 350 124 400 122 450" stroke="#000" stroke-width="7.5" fill="none" stroke-linecap="round"/>
<path d="M548 310 C547 350 546 400 545 447" stroke="#000" stroke-width="8" fill="none" stroke-linecap="round"/>
<path d="M262 20 L262 95 L335 175 L415 90 L413 20 Z" fill="#dbe9f4"/>
<path d="M335 20 L335 60 C335 110 345 140 352 158 L415 90 L413 20 Z" fill="#c4dcee"/>
<path d="M262 30 L262 95" stroke="#000" stroke-width="6" fill="none"/>
<path d="M413 30 L415 90" stroke="#000" stroke-width="6" fill="none"/>
<path d="M262 230 C275 195 300 176 335 174 C372 176 385 195 392 230 Z" fill="#dbe9f4" stroke="#000" stroke-width="5"/>
<path d="M337 174 L337 230" stroke="#000" stroke-width="3.5"/>
<path d="M212 128 L257 92 L300 150 L335 174 C300 180 275 198 257 228 Z" fill="#d5e5f1" stroke="#000" stroke-width="5" stroke-linejoin="round"/>
<path d="M257 92 L212 128 L257 228" fill="none" stroke="#000" stroke-width="8" stroke-linejoin="round" stroke-linecap="round"/>
<path d="M416 88 L462 124 L405 228 C392 198 370 180 335 174 Z" fill="#cbe0ef" stroke="#000" stroke-width="5" stroke-linejoin="round"/>
<path d="M416 88 L462 124 L405 228" fill="none" stroke="#000" stroke-width="8.5" stroke-linejoin="round" stroke-linecap="round"/>
</g>
<g transform="translate(575,860) scale(0.142857)">
<path d="M172 316 C142 314 122 332 124 358 C126 380 146 394 172 398 Z" fill="#dbe9f4"/>
<path d="M166 322 C144 318 124 336 126 358 C128 380 146 392 164 397" fill="none" stroke="#000" stroke-width="13" stroke-linecap="round"/>
<path d="M508 328 C534 322 552 338 549 364 C546 384 530 394 508 398 Z" fill="#dbe9f4"/>
<path d="M516 330 C536 324 552 340 549 364 C546 384 530 393 514 397" fill="none" stroke="#000" stroke-width="9" stroke-linecap="round"/>
<clipPath id="fclip"><path d="M165 302 C235 288 330 255 387 203 L412 172 C428 215 470 252 520 270 L524 292 L514 330 L516 398 C508 470 472 545 402 572 C370 583 310 583 280 572 C212 545 172 470 158 396 L166 330 Z"/></clipPath>
<path d="M165 302 C235 288 330 255 387 203 L412 172 C428 215 470 252 520 270 L524 292 L514 330 L516 398 C508 470 472 545 402 572 C370 583 310 583 280 572 C212 545 172 470 158 396 L166 330 Z" fill="#dbe9f4"/>
<g clip-path="url(#fclip)"><path d="M405 180 C425 260 445 330 440 420 C436 490 420 530 380 560 C440 580 520 560 540 400 L540 250 Z" fill="#c4dcee"/></g>
<path d="M158 396 C172 470 212 545 280 572 C310 583 370 583 402 572 C472 545 508 470 516 398" fill="none" stroke="#000" stroke-width="8" stroke-linecap="round"/>
<path d="M158 396 C172 470 212 545 280 572 C310 583 350 584 380 578" fill="none" stroke="#000" stroke-width="14" stroke-linecap="round"/>
<path d="M160 305 C235 290 330 257 387 205 L412 172 C428 215 470 252 520 270 C524 285 526 300 516 330" fill="none" stroke="#000" stroke-width="14" stroke-linejoin="miter" stroke-linecap="round"/>
<path d="M166 300 L166 330" stroke="#000" stroke-width="9" stroke-linecap="round"/>
<path d="M215 297 C245 283 275 279 302 284" fill="none" stroke="#000" stroke-width="6" stroke-linecap="round"/>
<path d="M380 290 C410 284 445 290 466 308" fill="none" stroke="#000" stroke-width="5" stroke-linecap="round"/>
<circle cx="267" cy="347" r="14"/><circle cx="415" cy="347" r="14"/>
<path d="M340 345 C332 385 322 420 314 452 C322 460 332 462 342 460" fill="none" stroke="#000" stroke-width="8" stroke-linecap="round" stroke-linejoin="round"/>
<path d="M306 503 C330 508 355 508 379 502" fill="none" stroke="#000" stroke-width="7" stroke-linecap="round"/>
</g>
<g transform="translate(560,935) scale(0.185714)">
<rect x="151" y="232" width="364" height="372" fill="#95c6e2"/>
<path d="M151 604 L151 232 L515 232" fill="none" stroke="#000" stroke-width="8" stroke-linejoin="miter"/>
<path d="M515 232 L515 604" fill="none" stroke="#000" stroke-width="4"/>
<path d="M300 312 L375 312 L443 538 L372 538 L360 498 L302 498 L290 538 L228 538 Z M335 375 L312 452 L358 452 Z" fill="#fff" fill-rule="evenodd" stroke="#000" stroke-width="7" stroke-linejoin="miter"/>
<rect x="108" y="448" width="84" height="39" rx="19.5" ry="19.5" fill="#e3edf6" stroke="#222" stroke-width="2.2"/><path d="M127.5 487 H172.5 A19.5 19.5 0 0 0 172.5 448" fill="none" stroke="#000" stroke-width="5.5" stroke-linecap="round"/>
<rect x="105" y="486" width="103" height="42" rx="21.0" ry="21.0" fill="#e3edf6" stroke="#222" stroke-width="2.2"/><path d="M126.0 528 H187.0 A21.0 21.0 0 0 0 187.0 486" fill="none" stroke="#000" stroke-width="5.5" stroke-linecap="round"/>
<rect x="105" y="526" width="91" height="38" rx="19.0" ry="19.0" fill="#e3edf6" stroke="#222" stroke-width="2.2"/><path d="M124.0 564 H177.0 A19.0 19.0 0 0 0 177.0 526" fill="none" stroke="#000" stroke-width="5.5" stroke-linecap="round"/>
<rect x="105" y="562" width="67" height="40" rx="20.0" ry="20.0" fill="#e3edf6" stroke="#222" stroke-width="2.2"/><path d="M125.0 602 H152.0 A20.0 20.0 0 0 0 152.0 562" fill="none" stroke="#000" stroke-width="5.5" stroke-linecap="round"/>
<rect x="470" y="448" width="86" height="39" rx="19.5" ry="19.5" fill="#e3edf6" stroke="#222" stroke-width="2.2"/><path d="M536.5 487 H489.5 A19.5 19.5 0 0 1 489.5 448" fill="none" stroke="#000" stroke-width="5.5" stroke-linecap="round"/>
<rect x="455" y="486" width="101" height="41" rx="20.5" ry="20.5" fill="#e3edf6" stroke="#222" stroke-width="2.2"/><path d="M535.5 527 H475.5 A20.5 20.5 0 0 1 475.5 486" fill="none" stroke="#000" stroke-width="5.5" stroke-linecap="round"/>
<rect x="466" y="525" width="90" height="39" rx="19.5" ry="19.5" fill="#e3edf6" stroke="#222" stroke-width="2.2"/><path d="M536.5 564 H485.5 A19.5 19.5 0 0 1 485.5 525" fill="none" stroke="#000" stroke-width="5.5" stroke-linecap="round"/>
<rect x="490" y="562" width="66" height="40" rx="20.0" ry="20.0" fill="#e3edf6" stroke="#222" stroke-width="2.2"/><path d="M536.0 602 H510.0 A20.0 20.0 0 0 1 510.0 562" fill="none" stroke="#000" stroke-width="5.5" stroke-linecap="round"/>
</g>
</g>
</svg>
</body></html>
